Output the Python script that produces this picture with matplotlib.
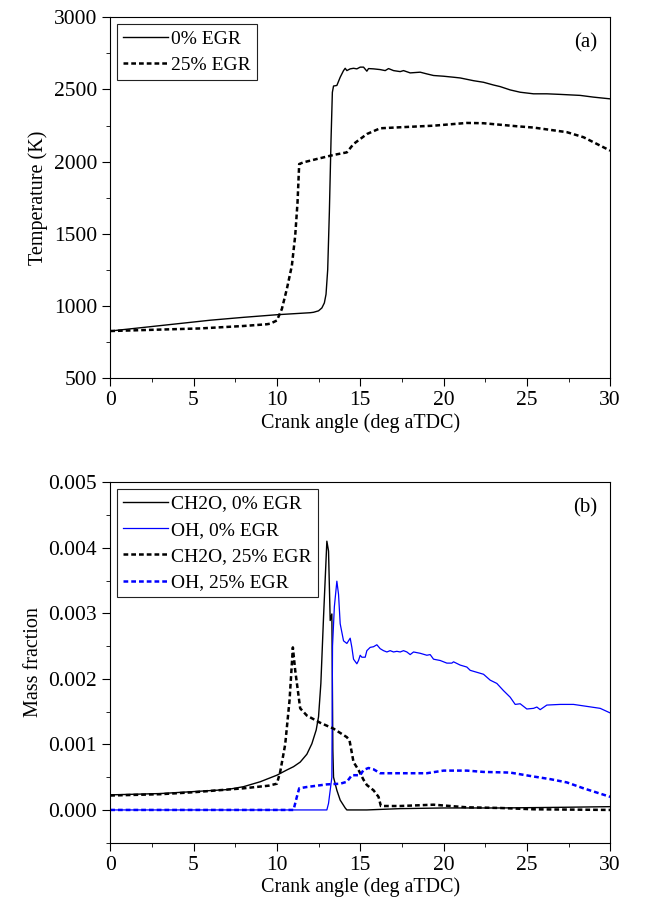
import matplotlib
matplotlib.use('Agg')
import matplotlib.pyplot as plt
from matplotlib.ticker import MultipleLocator, FormatStrFormatter

plt.rcParams['font.family'] = ['Liberation Serif', 'DejaVu Serif']
plt.rcParams['font.size'] = 15.5

# (a) temperature, K
ca_t0 = [0, 2, 4, 6, 8, 10, 11, 12, 12.2, 12.5, 12.7, 12.85, 12.95, 13.05, 13.15, 13.25, 13.33, 13.4, 13.6, 13.8,
         14.0, 14.1, 14.2, 14.4, 14.6, 14.8, 15.0, 15.2, 15.4, 15.5, 15.8, 16.2, 16.5, 16.7, 17.0, 17.4, 17.6, 18.0,
         18.6, 19.0, 19.4, 20.0, 20.6, 21.0, 21.8, 22.4, 23.0, 23.4, 24.0, 24.6, 25.4, 26.2, 27.0, 28.2, 29.0, 30]
temp_0 = [825, 850, 875, 900, 920, 938, 945, 952, 955, 965, 985, 1020, 1080, 1250, 1650, 2150, 2480, 2524, 2528, 2585,
          2631, 2647, 2631, 2643, 2647, 2643, 2655, 2655, 2627, 2645, 2643, 2638, 2631, 2645, 2631, 2624, 2631, 2615,
          2620, 2608, 2597, 2592, 2585, 2580, 2561, 2550, 2531, 2520, 2497, 2481, 2470, 2470, 2466, 2459, 2447, 2435]

ca_t25 = [0, 3, 5.4, 8, 9.4, 9.6, 10.0, 10.3, 10.6, 10.9, 11.1, 11.24, 11.34, 11.6, 12.4, 13.4, 14.2, 14.6, 15.4,
          16.2, 17.4, 19.4, 21.4, 22.4, 24.4, 25.4, 27.4, 28.4, 30]
temp_25 = [825, 835, 843, 860, 872, 876, 898, 978, 1117, 1278, 1486, 1717, 1983, 1995, 2018, 2046, 2064, 2122, 2191,
           2231, 2238, 2249, 2268, 2266, 2245, 2236, 2204, 2169, 2076]

# (b) mass fraction
ca_ch2o_0 = [0, 3, 5, 7, 8, 9, 10, 10.6, 11.0, 11.4, 11.8, 12.1, 12.36, 12.5, 12.64, 12.8, 13.0, 13.1, 13.2, 13.3,
             13.36, 13.4, 13.6, 13.8, 14.1, 14.2, 15.4, 17.4, 20, 23.4, 27, 30]
ch2o_0 = [0.00023, 0.00025, 0.00028, 0.00031, 0.000355, 0.00043, 0.00053, 0.00061, 0.00066, 0.00073, 0.00085, 0.00101,
          0.00122, 0.00142, 0.00193, 0.00294, 0.0041, 0.00395, 0.00289, 0.00299, 0.00091, 0.0005, 0.0003, 0.00015,
          0.00003, 0.0, 0.0, 0.00002, 0.00003, 0.00003, 0.00004, 0.00005]

ca_oh_0 = [0, 13.0, 13.1, 13.25, 13.3, 13.34, 13.45, 13.6, 13.7, 13.8, 14.0, 14.2, 14.4, 14.5, 14.6, 14.8, 14.9, 15.0,
           15.1, 15.3, 15.4, 15.6, 15.8, 16.0, 16.2, 16.4, 16.6, 16.8, 17.0, 17.2, 17.4, 17.6, 17.8, 18.0, 18.2, 18.6,
           19.0, 19.2, 19.4, 19.8, 20.2, 20.5, 20.6, 21.0, 21.4, 21.6, 22.0, 22.4, 22.8, 23.2, 23.6, 24.0, 24.3, 24.6,
           25.0, 25.4, 25.6, 25.8, 26.2, 27.0, 27.8, 28.6, 29.4, 30]
oh_0 = [0.0, 0.0, 0.0001, 0.0004, 0.0005, 0.0025, 0.0031, 0.00349, 0.00329, 0.00284, 0.00258, 0.00254, 0.00262,
        0.00248, 0.0023, 0.00223, 0.00228, 0.00236, 0.00233, 0.00233, 0.00243, 0.00248, 0.00249, 0.00252, 0.00246,
        0.00243, 0.00241, 0.00243, 0.00241, 0.00242, 0.00241, 0.00243, 0.00241, 0.00237, 0.00241, 0.00239, 0.00236,
        0.00237, 0.0023, 0.00228, 0.00224, 0.00224, 0.00226, 0.00221, 0.00218, 0.00213, 0.0021, 0.00207, 0.00198,
        0.00193, 0.00182, 0.00172, 0.00161, 0.00162, 0.00154, 0.00155, 0.00157, 0.00153, 0.0016, 0.00161, 0.00161,
        0.00158, 0.00155, 0.00148]

ca_ch2o_25 = [0, 3, 5, 8, 9.5, 10.0, 10.2, 10.5, 10.76, 10.9, 10.96, 11.1, 11.4, 11.8, 12.6, 13.4, 14.2, 14.36, 14.6,
              14.9, 15.2, 15.4, 15.8, 16.1, 16.24, 17.4, 19.4, 21.4, 23.4, 25.4, 30]
ch2o_25 = [0.00022, 0.00024, 0.00027, 0.00033, 0.00037, 0.0004, 0.00058, 0.001, 0.00167, 0.00223, 0.00248, 0.00213,
           0.00155, 0.00144, 0.00133, 0.00124, 0.00111, 0.00106, 0.00073, 0.00061, 0.00046, 0.00038, 0.0003, 0.0002,
           0.00006, 0.00006, 0.00008, 0.00004, 0.00003, 0.00001, 0.0]

ca_oh_25 = [0, 11.0, 11.2, 11.34, 11.8, 13.0, 13.8, 14.2, 14.5, 14.8, 15.0, 15.2, 15.5, 15.8, 16.2, 17.4, 19.0, 20.0,
            21.4, 22.4, 24.0, 25.4, 26.4, 27.4, 28.4, 30]
oh_25 = [0.0, 0.0, 0.0002, 0.00033, 0.00035, 0.00039, 0.0004, 0.00043, 0.00053, 0.00053, 0.00053, 0.00061, 0.00064,
         0.00062, 0.00056, 0.00056, 0.00056, 0.0006, 0.0006, 0.00058, 0.00057, 0.00051, 0.00047, 0.00042, 0.00033, 0.0002]

dash = (0, (1.9, 1.2))

fig = plt.figure(figsize=(6.72, 9.15), dpi=100)
ax1 = fig.add_axes([0.164, 0.587, 0.744, 0.394])
ax2 = fig.add_axes([0.164, 0.079, 0.744, 0.394])

ax1.plot(ca_t0, temp_0, color='black', lw=1.0, label='0% EGR')
ax1.plot(ca_t25, temp_25, color='black', lw=1.8, ls=dash, label='25% EGR')
ax1.set_ylim(500, 3000)
ax1.yaxis.set_major_locator(MultipleLocator(500))
ax1.yaxis.set_minor_locator(MultipleLocator(250))
ax1.set_ylabel('Temperature (K)', fontsize=14.5)
ax1.text(0.975, 0.955, '(a)', transform=ax1.transAxes, ha='right', va='top', fontsize=15)

ax2.plot(ca_ch2o_0, ch2o_0, color='black', lw=1.0, label='CH2O, 0% EGR')
ax2.plot(ca_oh_0, oh_0, color='#0000ff', lw=0.9, label='OH, 0% EGR')
ax2.plot(ca_ch2o_25, ch2o_25, color='black', lw=1.8, ls=dash, label='CH2O, 25% EGR')
ax2.plot(ca_oh_25, oh_25, color='#0000ff', lw=1.8, ls=dash, label='OH, 25% EGR')
ax2.set_ylim(-0.0005, 0.005)
ax2.yaxis.set_major_locator(MultipleLocator(0.001))
ax2.yaxis.set_minor_locator(MultipleLocator(0.0005))
ax2.yaxis.set_major_formatter(FormatStrFormatter('%.3f'))
ax2.set_ylabel('Mass fraction', fontsize=14.5)
ax2.text(0.975, 0.955, '(b)', transform=ax2.transAxes, ha='right', va='top', fontsize=15)

for ax in (ax1, ax2):
    ax.set_xlim(0, 30)
    ax.xaxis.set_major_locator(MultipleLocator(5))
    ax.xaxis.set_minor_locator(MultipleLocator(2.5))
    ax.set_xlabel('Crank angle (deg aTDC)', labelpad=2, fontsize=14.5)
    ax.tick_params(which='both', direction='out', top=False, right=False)
    ax.tick_params(which='major', length=6)
    ax.tick_params(which='minor', length=3)
    leg = ax.legend(loc='upper left', fancybox=False, edgecolor='#222222', framealpha=1,
                    handlelength=2.3, borderaxespad=0.35, labelspacing=0.45, handletextpad=0.2,
                    borderpad=0.3, fontsize=14)
    leg.get_frame().set_linewidth(0.8)

fig.savefig('out.png', dpi=100)
